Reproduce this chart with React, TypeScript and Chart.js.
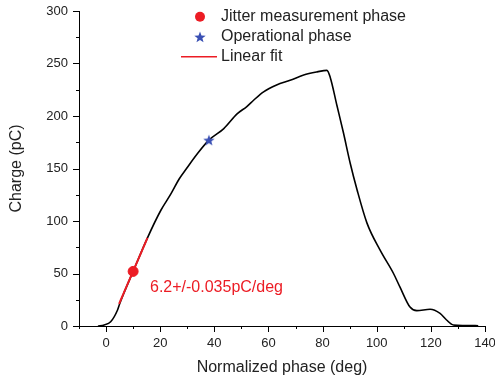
import React, { useEffect, useRef } from "react";
import { Chart, registerables } from "chart.js";

Chart.register(...registerables);

// Measured curve: normalized phase (deg) vs charge (pC)
const phaseDeg = [-3, -0.7, 1.7, 4.2, 5, 10, 15.3, 20.2, 24, 27, 30, 34, 38, 43.5, 48.4, 52, 54.5, 58.2, 63, 68, 73, 78, 81.6, 82.8, 85.3, 87.7, 90.2, 92.7, 96.4, 101.3, 106.2, 108.6, 112.3, 114.8, 119.7, 123.4, 125.8, 128.3, 137.5];
const chargePC = [0, 1, 4, 15, 21, 52, 84, 110, 126, 140, 151, 165, 177, 188, 202, 209, 215, 223, 229.5, 234, 239, 242, 243.5, 237, 210, 184, 155, 130, 98, 72, 50, 37, 18, 14.6, 15.9, 12, 5.7, 1, 0.3];

// Linear fit segment
const fitPhase = [4.8, 15.3];
const fitCharge = [21, 84];

// Markers
const jitterPoint = { x: 10, y: 52 };
const operationalPoint = { x: 38, y: 177 };

const legendLabels = ["Jitter measurement phase", "Operational phase", "Linear fit"];
const fitLabel = "6.2+/-0.035pC/deg";
const xTitle = "Normalized phase (deg)";
const yTitle = "Charge (pC)";

const RED = "#ec1c24";
const BLUE = "#3a50b4";
const TEXT = "#222222";
const FONT = '"Liberation Sans", Arial, sans-serif';

function makeStar(size: number, color: string): HTMLCanvasElement {
  const c = document.createElement("canvas");
  c.width = size;
  c.height = size;
  const g = c.getContext("2d")!;
  const cx = size / 2, cy = size / 2 + 0.5;
  const R = size / 2, r = R * 0.42;
  g.beginPath();
  for (let i = 0; i < 10; i++) {
    const rad = i % 2 === 0 ? R : r;
    const a = -Math.PI / 2 + (i * Math.PI) / 5;
    const px = cx + rad * Math.cos(a);
    const py = cy + rad * Math.sin(a);
    if (i === 0) g.moveTo(px, py);
    else g.lineTo(px, py);
  }
  g.closePath();
  g.fillStyle = color;
  g.fill();
  return c;
}

export default function App() {
  const ref = useRef<HTMLCanvasElement | null>(null);

  useEffect(() => {
    document.body.style.margin = "0";
    const star = makeStar(12, BLUE);

    const overlay = {
      id: "overlay",
      afterDraw(chart: any) {
        const { ctx, scales } = chart;
        const xs = scales.x, ys = scales.y;
        ctx.save();
        ctx.strokeStyle = "#000";
        ctx.lineWidth = 1;
        // x ticks
        for (let v = -10; v <= 140; v += 10) {
          const px = Math.round(xs.getPixelForValue(v)) + 0.5;
          const len = v % 20 === 0 ? 6 : 3;
          ctx.beginPath();
          ctx.moveTo(px, ys.bottom);
          ctx.lineTo(px, ys.bottom + len);
          ctx.stroke();
        }
        // y ticks
        for (let v = 0; v <= 300; v += 25) {
          const py = Math.round(ys.getPixelForValue(v)) + 0.5;
          const len = v % 50 === 0 ? 6 : 3;
          ctx.beginPath();
          ctx.moveTo(xs.left, py);
          ctx.lineTo(xs.left - len, py);
          ctx.stroke();
        }
        // legend
        const lx = 200;
        const ly = [16.7, 37, 56.7];
        ctx.fillStyle = RED;
        ctx.beginPath();
        ctx.arc(lx, ly[0], 5, 0, Math.PI * 2);
        ctx.fill();
        ctx.drawImage(star, lx - 6, ly[1] - 6);
        ctx.strokeStyle = RED;
        ctx.lineWidth = 1.5;
        ctx.beginPath();
        ctx.moveTo(181, ly[2]);
        ctx.lineTo(217, ly[2]);
        ctx.stroke();
        ctx.font = `16px ${FONT}`;
        ctx.textBaseline = "middle";
        ctx.textAlign = "left";
        ctx.fillStyle = TEXT;
        legendLabels.forEach((t, i) => ctx.fillText(t, 221, ly[i]));
        // fit annotation
        ctx.fillStyle = RED;
        ctx.fillText(fitLabel, 150, 288);
        ctx.restore();
      },
    };

    const chart = new Chart(ref.current!, {
      type: "scatter",
      data: {
        datasets: [
          {
            label: "curve",
            data: phaseDeg.map((x, i) => ({ x, y: chargePC[i] })),
            showLine: true,
            borderColor: "#000",
            borderWidth: 1.6,
            pointRadius: 0,
            cubicInterpolationMode: "monotone",
            order: 4,
          },
          {
            label: legendLabels[2],
            data: fitPhase.map((x, i) => ({ x, y: fitCharge[i] })),
            showLine: true,
            borderColor: RED,
            borderWidth: 2,
            pointRadius: 0,
            order: 3,
          },
          {
            label: legendLabels[0],
            data: [jitterPoint],
            backgroundColor: RED,
            borderColor: RED,
            pointRadius: 5,
            order: 2,
          },
          {
            label: legendLabels[1],
            data: [operationalPoint],
            pointStyle: star as any,
            pointRadius: 6,
            order: 1,
          },
        ],
      },
      options: {
        animation: false,
        responsive: true,
        maintainAspectRatio: false,
        layout: { padding: { left: 0, top: 11, right: 10, bottom: 0 } },
        plugins: { legend: { display: false }, tooltip: { enabled: false } },
        scales: {
          x: {
            type: "linear",
            min: -10,
            max: 140,
            afterFit: (s: any) => { s.height = 54; s.paddingLeft = 0; s.paddingRight = 0; },
            grid: { display: false, drawTicks: true, tickLength: 6 },
            border: { display: true, color: "#000", width: 1 },
            ticks: {
              stepSize: 20,
              padding: 4,
              color: TEXT,
              font: { family: FONT, size: 13 },
              maxRotation: 0,
              includeBounds: false,
            },
            afterBuildTicks: (s: any) => {
              s.ticks = [0, 20, 40, 60, 80, 100, 120, 140].map((v) => ({ value: v }));
            },
            title: {
              display: true,
              text: xTitle,
              color: TEXT,
              font: { family: FONT, size: 16 },
              padding: { top: 0, bottom: 3 },
            },
          },
          y: {
            type: "linear",
            min: 0,
            max: 300,
            afterFit: (s: any) => { s.width = 79; s.paddingTop = 0; s.paddingBottom = 0; },
            grid: { display: false, drawTicks: true, tickLength: 6 },
            border: { display: true, color: "#000", width: 1 },
            ticks: {
              stepSize: 50,
              padding: 5,
              color: TEXT,
              font: { family: FONT, size: 13 },
            },
            title: {
              display: true,
              text: yTitle,
              color: TEXT,
              font: { family: FONT, size: 16 },
              padding: { top: 7, bottom: 0 },
            },
          },
        },
      },
      plugins: [overlay],
    });
    return () => chart.destroy();
  }, []);

  return (
    <div style={{ position: "absolute", left: 0, top: 0, width: 495, height: 380, background: "#fff" }}>
      <canvas ref={ref} />
    </div>
  );
}
